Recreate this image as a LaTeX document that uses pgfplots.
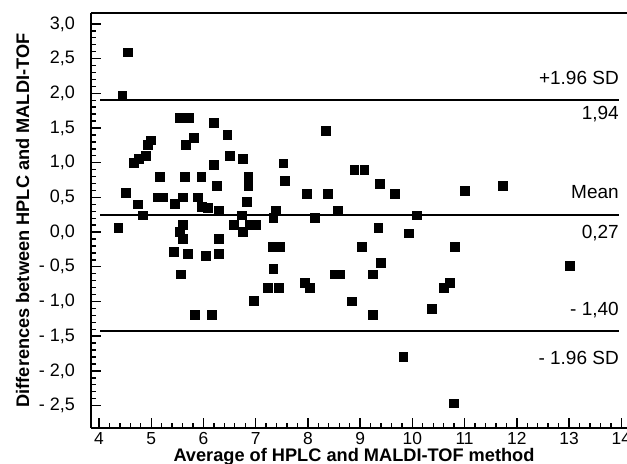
\documentclass[border=0pt]{standalone}
\usepackage{fontspec}
\setmainfont{Liberation Sans}
\usepackage{pgfplots}
\pgfplotsset{compat=1.18}
\begin{document}
\begin{tikzpicture}
\path[use as bounding box] (0,0) rectangle (313.5pt,232pt);
\begin{axis}[
    at={(45.5pt,18pt)}, anchor=south west,
    scale only axis, width=268pt, height=207.5pt,
    xmin=3.847, xmax=14.11,
    ymin=-2.823, ymax=3.157,
    axis x line=box, axis y line=left,
    axis line style={-, line width=1.2pt},
    xtick pos=bottom,
    tick align=inside,
    major tick length=5pt, minor tick length=2.5pt,
    every tick/.style={black, line width=0.7pt},
    xtick={4,5,...,14},
    minor x tick num=4, minor y tick num=4,
    ytick={-2.5,-2,-1.5,-1,-0.5,0,0.5,1,1.5,2,2.5,3},
    yticklabels={{- 2,5},{- 2,0},{- 1,5},{- 1,0},{- 0,5},{0,0},{0,5},{1,0},{1,5},{2,0},{2,5},{3,0}},
    /pgf/number format/assume math mode=true,
    tick label style={font=\fontsize{9}{10}\selectfont},
    yticklabel style={xshift=-4.5pt},
    xticklabel style={yshift=1.5pt, font=\fontsize{8.7}{10}\selectfont},
    xlabel={\bfseries Average of HPLC and MALDI-TOF method},
    ylabel={\bfseries Differences between HPLC and MALDI-TOF},
    label style={font=\fontsize{9.1}{11}\selectfont},
    xlabel style={yshift=5pt, xshift=-2.5pt},
    ylabel style={yshift=-2pt},
    clip=false,
]
% limits of agreement
\addplot[black, line width=1pt] coordinates {(4.02,1.91) (13.95,1.91)};
\addplot[black, line width=1pt] coordinates {(4.02,0.24) (13.95,0.24)};
\addplot[black, line width=1pt] coordinates {(4.02,-1.43) (13.95,-1.43)};

\addplot[only marks, mark=square*, mark size=2.2pt, black] coordinates {
    (4.56,2.59) (4.45,1.97) (5.55,1.65) (5.73,1.64) (6.20,1.57)
    (5.81,1.36) (5.67,1.26) (6.46,1.40) (4.99,1.32) (4.94,1.26)
    (4.90,1.10) (4.77,1.06) (4.67,1.00) (6.50,1.10) (6.75,1.06)
    (6.20,0.97) (5.16,0.79) (5.65,0.79) (5.96,0.79) (6.86,0.79)
    (6.86,0.67) (6.25,0.66) (4.52,0.56) (4.75,0.40) (4.84,0.24)
    (5.12,0.50) (5.22,0.50) (5.46,0.41) (5.61,0.50) (5.90,0.50)
    (5.97,0.36) (6.09,0.35) (6.30,0.31) (4.37,0.06) (5.61,0.10)
    (5.55,0.00) (5.60,-0.10) (6.30,-0.10) (5.44,-0.28) (5.71,-0.31)
    (6.05,-0.34) (6.30,-0.31) (5.57,-0.61) (5.84,-1.19) (6.16,-1.19)
    (6.73,0.24) (6.59,0.10) (6.75,0.00) (6.89,0.10) (7.01,0.10)
    (6.83,0.43) (6.97,-0.99) (7.56,0.74) (7.53,0.99) (7.98,0.55)
    (8.38,0.55) (9.38,0.70) (9.67,0.55) (7.38,0.31) (7.34,0.20)
    (8.14,0.20) (8.58,0.30) (10.09,0.24) (9.35,0.06) (9.93,-0.02)
    (7.33,-0.21) (7.47,-0.21) (9.03,-0.21) (7.34,-0.53) (9.40,-0.44)
    (8.51,-0.61) (8.62,-0.61) (9.24,-0.61) (7.24,-0.81) (7.45,-0.81)
    (7.95,-0.73) (8.04,-0.81) (8.84,-1.00) (9.24,-1.19) (10.37,-1.11)
    (9.83,-1.80) (8.35,1.46) (8.89,0.90) (9.08,0.90) (11.01,0.59)
    (11.73,0.67) (10.82,-0.21) (13.01,-0.49) (10.72,-0.73) (10.61,-0.81)
    (10.79,-2.47)
};

\begin{scope}[every node/.style={anchor=east, inner sep=0pt, font=\fontsize{9.5}{11}\selectfont}]
\node at (axis cs:13.96,2.227) {+1.96 SD};
\node at (axis cs:13.96,1.698) {1,94};
\node at (axis cs:13.96,0.582) {Mean};
\node at (axis cs:13.96,-0.019) {0,27};
\node at (axis cs:13.96,-1.12) {- 1,40};
\node at (axis cs:13.96,-1.807) {- 1.96 SD};
\end{scope}
\end{axis}
\end{tikzpicture}
\end{document}
